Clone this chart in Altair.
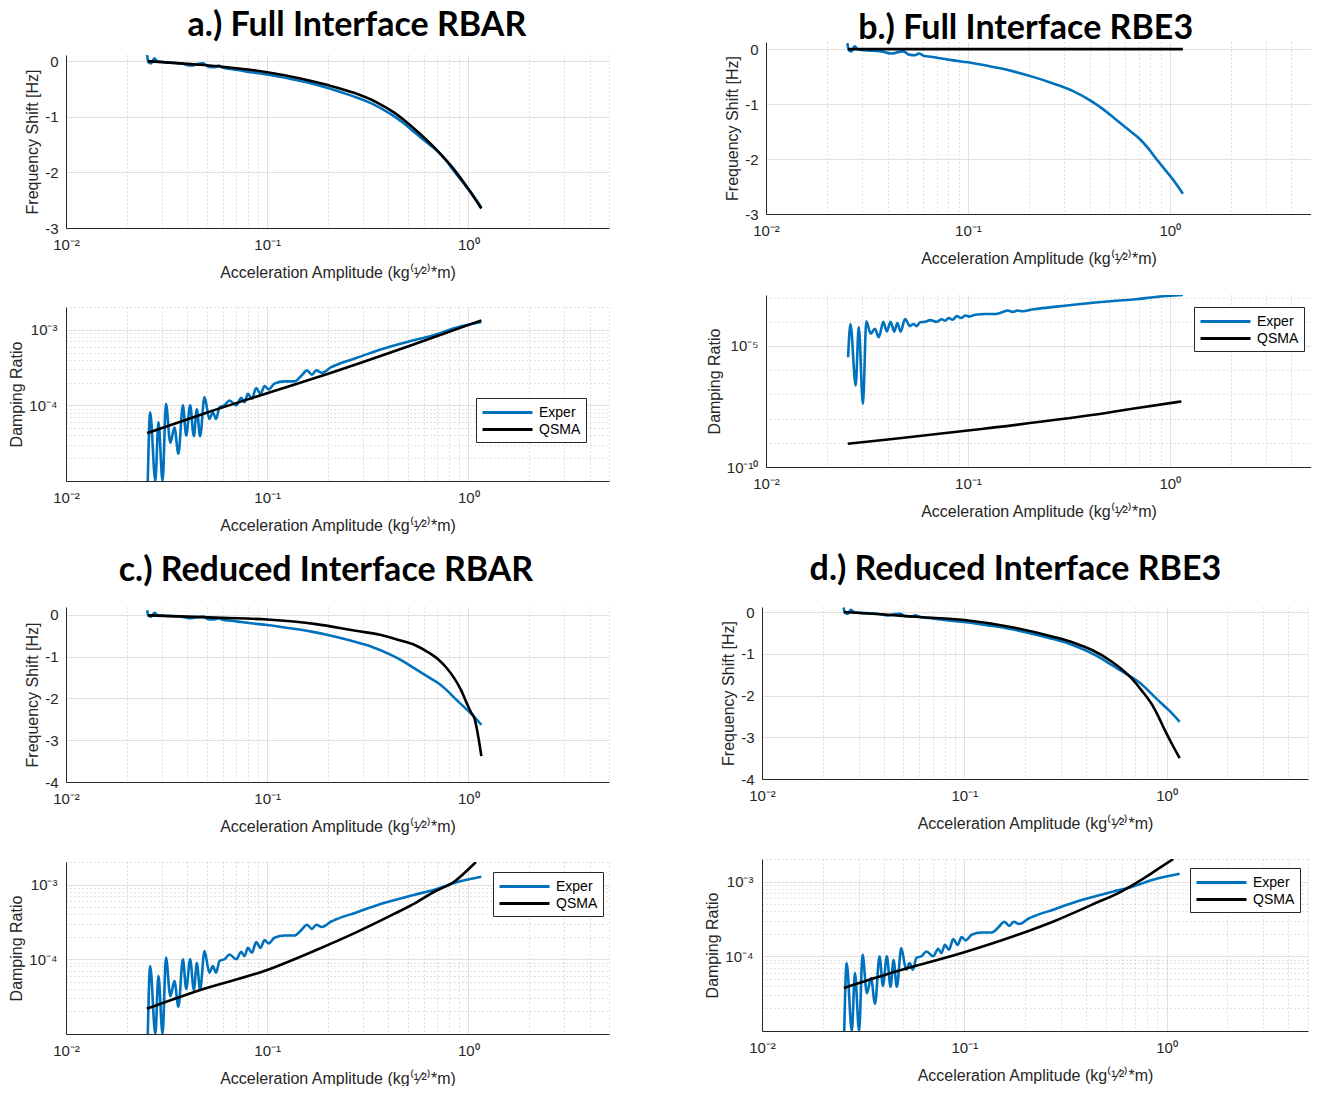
import altair as alt
import pandas as pd

BLUE = "#0072BD"
AX = "#262626"
FONT = "Liberation Sans"
TFONT = "Lato"

XTITLE = "Acceleration Amplitude (kg⁽¹⁄²⁾*m)"
AMP_MAJOR = [0.01, 0.1, 1.0]
AMP_MINOR = [0.02, 0.03, 0.04, 0.05, 0.06, 0.07, 0.08, 0.09,
             0.2, 0.3, 0.4, 0.5, 0.6, 0.7, 0.8, 0.9, 2, 3, 4, 5]

# ---- experimental data (same in all four panels) ----
EXP_F_X = [0.0253, 0.0257, 0.0265, 0.0275, 0.0284, 0.0308, 0.034, 0.0373, 0.0419, 0.0455,
           0.0479, 0.051, 0.0547, 0.0573, 0.0603, 0.066, 0.0741, 0.0832, 0.1, 0.131,
           0.166, 0.208, 0.262, 0.33, 0.41, 0.47, 0.54, 0.64, 0.707, 0.78,
           0.85, 0.93, 1.035, 1.16]
EXP_F_Y = [0.11, -0.02, -0.04, 0.05, 0.0, -0.02, -0.03, -0.04, -0.08, -0.05,
           -0.04, -0.1, -0.11, -0.08, -0.12, -0.14, -0.17, -0.2, -0.24, -0.32,
           -0.40, -0.5, -0.62, -0.76, -0.95, -1.1, -1.28, -1.5, -1.63, -1.8,
           -1.98, -2.16, -2.37, -2.63]

EXP_D_X = [0.0255, 0.0262, 0.0278, 0.0288, 0.0302, 0.0314, 0.033, 0.0346, 0.0362, 0.0381,
           0.0396, 0.0414, 0.0432, 0.0447, 0.0464, 0.0488, 0.0516, 0.0537, 0.0557, 0.058,
           0.0614, 0.065, 0.0702, 0.0743, 0.0771, 0.0802, 0.084, 0.0881, 0.0926, 0.097,
           0.1016, 0.1087, 0.122, 0.137, 0.1476, 0.1577, 0.1669, 0.1753, 0.187, 0.208,
           0.219, 0.275, 0.36, 0.541, 0.677, 0.85, 1.16]
EXP_D_Y = [3.4e-6, 8.1e-5, 2.3e-7, 6.0e-5, 4.0e-8, 1.05e-4, 3.2e-5, 5.1e-5, 2.3e-5, 1.0e-4,
           4.0e-5, 1.0e-4, 3.9e-5, 8.9e-5, 3.9e-5, 1.29e-4, 6.6e-5, 8.1e-5, 6.6e-5, 9.5e-5,
           1.0e-4, 1.16e-4, 1.0e-4, 1.26e-4, 1.1e-4, 1.42e-4, 1.22e-4, 1.7e-4, 1.42e-4, 1.8e-4,
           1.63e-4, 1.94e-4, 2.08e-4, 2.08e-4, 2.45e-4, 2.9e-4, 2.55e-4, 2.9e-4, 2.7e-4, 3.2e-4,
           3.4e-4, 4.2e-4, 5.4e-4, 7.3e-4, 8.5e-4, 1.05e-3, 1.27e-3]

# ---- QSMA predictions ----
QA_F_X = [0.0255, 0.04, 0.06, 0.08, 0.1, 0.15, 0.2, 0.27, 0.35, 0.43, 0.54, 0.68, 0.85, 1.0, 1.16]
QA_F_Y = [0.0, -0.05, -0.1, -0.15, -0.2, -0.32, -0.43, -0.57, -0.74, -0.93, -1.22, -1.56, -1.95, -2.3, -2.65]
QA_D_X = [0.0253, 0.05, 0.1, 0.208, 0.5, 1.16]
QA_D_Y = [4.3e-5, 8.0e-5, 1.45e-4, 2.7e-4, 6.0e-4, 1.33e-3]

QB_F_X = [0.0255, 0.1, 0.5, 1.16]
QB_F_Y = [0.0, 0.0, 0.0, 0.0]
QB_D_X = [0.0254, 0.0435, 0.1, 0.299, 0.41, 0.64, 1.14]
QB_D_Y = [9.1e-10, 1.46e-9, 3.2e-9, 9.8e-9, 1.4e-8, 2.5e-8, 5.1e-8]

QC_F_X = [0.0255, 0.04, 0.06, 0.1, 0.175, 0.275, 0.369, 0.45, 0.541, 0.62, 0.707, 0.78,
          0.855, 0.92, 0.977, 1.03, 1.074, 1.125, 1.16]
QC_F_Y = [-0.01, -0.04, -0.07, -0.11, -0.22, -0.38, -0.48, -0.6, -0.72, -0.87, -1.06, -1.27,
          -1.53, -1.8, -2.09, -2.33, -2.49, -2.97, -3.38]
QC_D_X = [0.0252, 0.0453, 0.1, 0.1754, 0.275, 0.432, 0.541, 0.677, 0.85, 0.97, 1.09]
QC_D_Y = [2.18e-5, 3.8e-5, 7.2e-5, 1.33e-4, 2.27e-4, 4.1e-4, 5.6e-4, 8.0e-4, 1.09e-3, 1.48e-3, 2.05e-3]

QD_F_X = [0.0254, 0.04, 0.06, 0.1, 0.175, 0.274, 0.35, 0.428, 0.537, 0.6, 0.672, 0.75,
          0.84, 0.91, 0.98, 1.06, 1.16]
QD_F_Y = [0.0, -0.06, -0.12, -0.19, -0.37, -0.59, -0.74, -0.91, -1.19, -1.37, -1.59, -1.87,
          -2.19, -2.5, -2.83, -3.15, -3.5]
QD_D_X = [0.0254, 0.0455, 0.1, 0.175, 0.274, 0.428, 0.6, 0.75, 0.9, 1.08]
QD_D_Y = [3.77e-5, 6.2e-5, 1.13e-4, 1.85e-4, 2.9e-4, 4.9e-4, 7.4e-4, 1.05e-3, 1.45e-3, 2.0e-3]

TITLES = ["a.) Full Interface RBAR", "b.) Full Interface RBE3",
          "c.) Reduced Interface RBAR", "d.) Reduced Interface RBE3"]

X_LABELS = "datum.value < 0.05 ? '10⁻²' : (datum.value < 0.5 ? '10⁻¹' : '10⁰')"
LEG_LINE = "M-1,0L5.25,0"


def make_df(qx, qy, ex, ey):
    return pd.DataFrame({
        "amp": list(ex) + list(qx),
        "val": list(ey) + list(qy),
        "series": ["Exper"] * len(ex) + ["QSMA"] * len(qx),
    })


def subplot(df, ydom, ytype, ymajor, yminor, ylabels, ytitle, w, h, legend_pos=None,
            ylabel_pad=8, ytitle_pad=4):
    xscale = alt.Scale(type="log", domain=[0.01, 5], nice=False)
    if ytype == "log":
        yscale = alt.Scale(type="log", domain=ydom, nice=False, clamp=True)
    else:
        yscale = alt.Scale(type="linear", domain=ydom, nice=False, zero=False, clamp=True)
    base = alt.Chart(df)
    minor = base.mark_line(opacity=0).encode(
        x=alt.X("amp:Q", scale=xscale,
                axis=alt.Axis(orient="bottom", values=AMP_MINOR, grid=True, gridDash=[1, 3],
                              gridColor="#c4c4c4", labels=False, ticks=False, domain=False,
                              title=None)),
        y=alt.Y("val:Q", scale=yscale,
                axis=alt.Axis(orient="left", values=yminor, grid=len(yminor) > 0,
                              gridDash=[1, 3], gridColor="#c4c4c4", labels=False,
                              ticks=False, domain=False, title=None)),
    )
    if legend_pos is None:
        legend = None
    else:
        legend = alt.Legend(orient="none", legendX=legend_pos[0], legendY=legend_pos[1],
                            title=None, symbolType=LEG_LINE, symbolSize=256,
                            symbolStrokeWidth=3, labelFont=FONT, labelFontSize=14,
                            labelColor="#000000", strokeColor="#262626", fillColor="white",
                            padding=5, rowPadding=0, labelOffset=39)
    main = base.mark_line(strokeWidth=2.6, interpolate="monotone", clip=True).encode(
        x=alt.X("amp:Q", scale=xscale,
                axis=alt.Axis(orient="bottom", values=AMP_MAJOR, labelExpr=X_LABELS,
                              title=XTITLE, grid=True, gridColor="#e0e0e0", ticks=False,
                              labelFlush=False, labelPadding=9, titlePadding=12)),
        y=alt.Y("val:Q", scale=yscale,
                axis=alt.Axis(orient="left", values=ymajor, labelExpr=ylabels, title=ytitle,
                              grid=True, gridColor="#e0e0e0", ticks=False,
                              labelPadding=ylabel_pad, titlePadding=ytitle_pad)),
        color=alt.Color("series:N",
                        scale=alt.Scale(domain=["Exper", "QSMA"], range=[BLUE, "#000000"]),
                        legend=legend),
    )
    return alt.layer(minor, main).resolve_axis(x="independent", y="independent").properties(
        width=w, height=h)


FREQ_LABELS = "'' + datum.value"
D_LABELS = "datum.value < 5e-4 ? '10⁻⁴' : '10⁻³'"
DB_LABELS = "datum.value < 1e-7 ? '10⁻¹⁰' : '10⁻⁵'"
D_MINOR = [2e-5, 3e-5, 4e-5, 5e-5, 6e-5, 7e-5, 8e-5, 9e-5,
           2e-4, 3e-4, 4e-4, 5e-4, 6e-4, 7e-4, 8e-4, 9e-4, 2e-3]
DB_MINOR = [1e-9, 1e-8, 1e-7, 1e-6, 1e-4, 1e-3]


def spacer():
    return alt.Chart(pd.DataFrame({"s": [0]})).mark_point(opacity=0).encode(
        x=alt.value(0), y=alt.value(0)).properties(width=10, height=1)


def indep(c):
    return c.resolve_scale(color="independent").resolve_legend(color="independent")


def column(title, dx, offset, freq, damp, spacing, lift=0):
    inner = indep(alt.vconcat(freq, damp, spacing=spacing))
    if lift > 0:
        inner = indep(alt.vconcat(spacer(), inner, spacing=lift))
    return inner.properties(
        title=alt.Title(title, font=TFONT, fontSize=34, fontWeight="bold", color="#000000",
                        anchor="middle", dx=dx, offset=offset))


fa = subplot(make_df(QA_F_X, QA_F_Y, EXP_F_X, EXP_F_Y), [-3, 0.11], "linear",
             [-3, -2, -1, 0], [], FREQ_LABELS, "Frequency Shift [Hz]", 543, 173)
da = subplot(make_df(QA_D_X, QA_D_Y, EXP_D_X, EXP_D_Y), [1e-5, 2e-3], "log",
             [1e-4, 1e-3], D_MINOR, D_LABELS, "Damping Ratio", 543, 174,
             legend_pos=[410, 91], ylabel_pad=9)

fb = subplot(make_df(QB_F_X, QB_F_Y, EXP_F_X, EXP_F_Y), [-3, 0.13], "linear",
             [-3, -2, -1, 0], [], FREQ_LABELS, "Frequency Shift [Hz]", 545, 172)
db = subplot(make_df(QB_D_X, QB_D_Y, EXP_D_X, EXP_D_Y), [1e-10, 1.27e-3], "log",
             [1e-10, 1e-5], DB_MINOR, DB_LABELS, "Damping Ratio", 545, 172,
             legend_pos=[428, 12], ylabel_pad=8)

fc = subplot(make_df(QC_F_X, QC_F_Y, EXP_F_X, EXP_F_Y), [-4, 0.19], "linear",
             [-4, -3, -2, -1, 0], [], FREQ_LABELS, "Frequency Shift [Hz]", 543, 175)
dc = subplot(make_df(QC_D_X, QC_D_Y, EXP_D_X, EXP_D_Y), [1e-5, 2e-3], "log",
             [1e-4, 1e-3], D_MINOR, D_LABELS, "Damping Ratio", 543, 172,
             legend_pos=[427, 10], ylabel_pad=9)

fd = subplot(make_df(QD_F_X, QD_F_Y, EXP_F_X, EXP_F_Y), [-4, 0.12], "linear",
             [-4, -3, -2, -1, 0], [], FREQ_LABELS, "Frequency Shift [Hz]", 546, 172)
dd = subplot(make_df(QD_D_X, QD_D_Y, EXP_D_X, EXP_D_Y), [1e-5, 2e-3], "log",
             [1e-4, 1e-3], D_MINOR, D_LABELS, "Damping Ratio", 546, 172,
             legend_pos=[428, 9], ylabel_pad=9)

col_a = column(TITLES[0], 48, -4, fa, da, 27, lift=9)
col_b = column(TITLES[1], 17, -4, fb, db, 29)
col_c = column(TITLES[2], 17, 19, fc, dc, 28)
col_d = column(TITLES[3], 9, 18, fd, dd, 28)

row1 = indep(alt.hconcat(col_a, col_b, spacing=97))
row2 = indep(alt.hconcat(col_c, col_d, spacing=95))

chart = indep(alt.vconcat(row1, row2, spacing=20)).properties(
    padding={"left": 0, "top": 1, "right": 0, "bottom": 0},
    background="white").configure_view(stroke=None).configure_axis(
    labelFont=FONT, labelFontSize=15, labelColor=AX,
    titleFont=FONT, titleFontSize=16, titleColor=AX, titleFontWeight="normal",
    domainColor=AX, domainWidth=1,
)

chart.save("out.html", embed_options={"renderer": "svg", "actions": False})
